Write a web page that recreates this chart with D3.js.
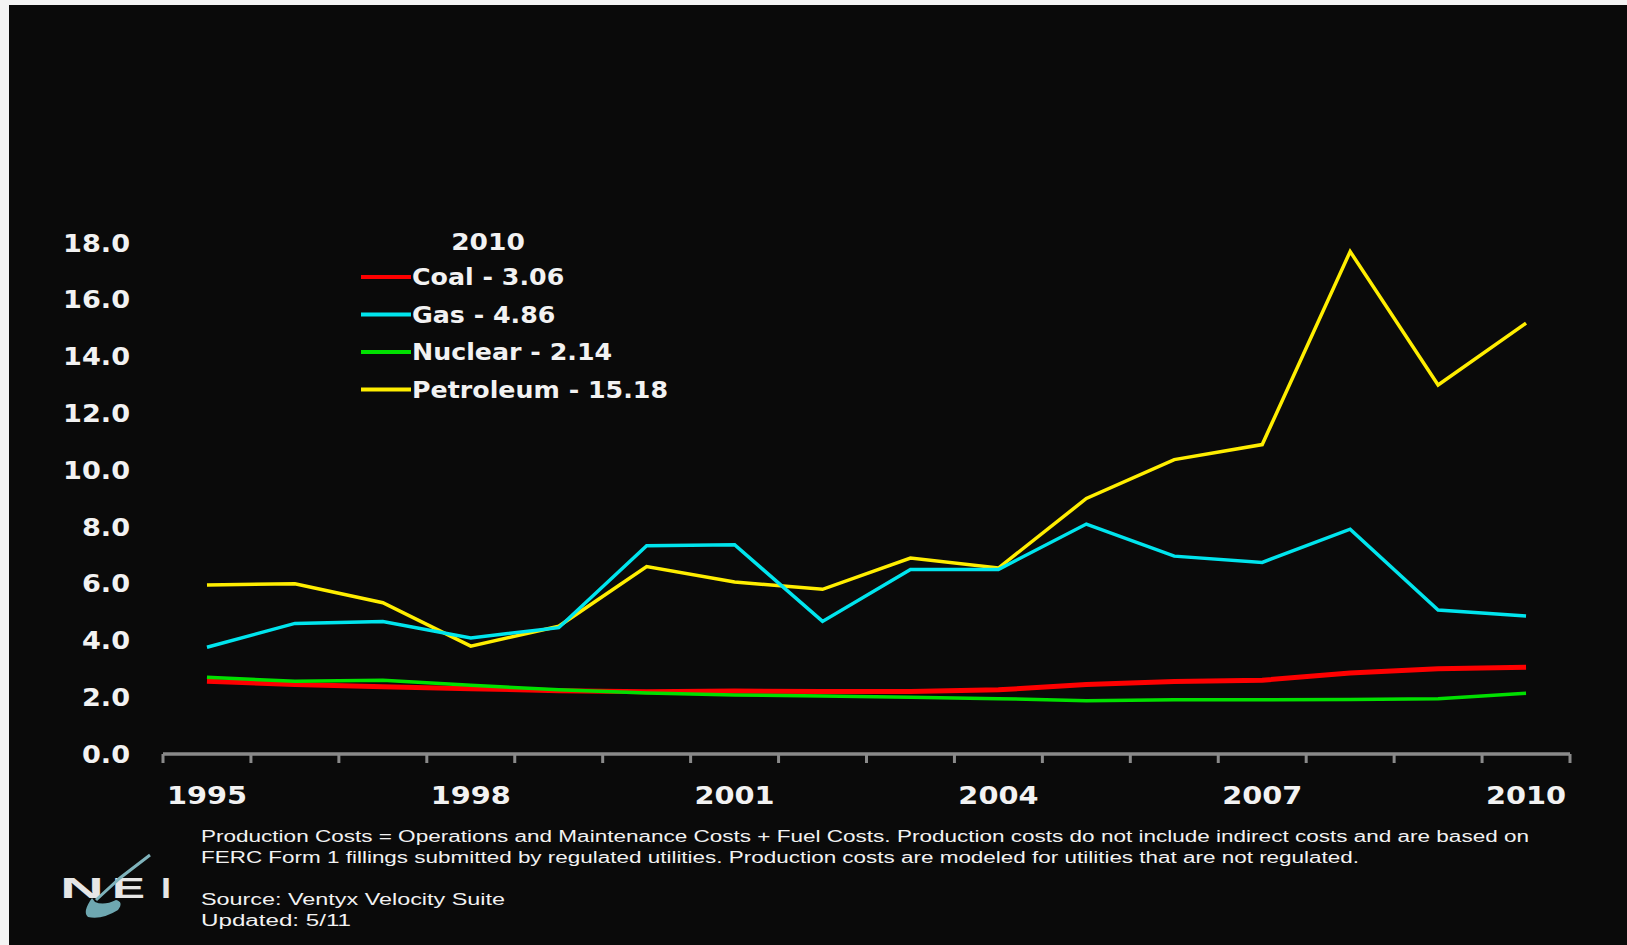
<!DOCTYPE html>
<html>
<head>
<meta charset="utf-8">
<script src="https://cdn.jsdelivr.net/npm/d3@7"></script>
<style>
  body { margin: 0; background: #f4f4f4; overflow: hidden; }
  text { font-family: "DejaVu Sans", Verdana, sans-serif; }
  .foot { font-family: "Liberation Sans", Arial, sans-serif; }
</style>
</head>
<body>
<svg id="chart" width="1627" height="945"></svg>
<script>
// data
const years = ["1995","1996","1997","1998","1999","2000","2001","2002","2003","2004","2005","2006","2007","2008","2009","2010"];
const coal      = [2.56, 2.45, 2.37, 2.30, 2.23, 2.19, 2.22, 2.20, 2.20, 2.26, 2.45, 2.55, 2.60, 2.85, 3.00, 3.06];
const gas       = [3.76, 4.60, 4.67, 4.09, 4.45, 7.34, 7.37, 4.67, 6.50, 6.50, 8.10, 6.97, 6.75, 7.92, 5.07, 4.86];
const nuclear   = [2.70, 2.56, 2.60, 2.42, 2.26, 2.15, 2.08, 2.04, 2.00, 1.95, 1.88, 1.91, 1.91, 1.92, 1.95, 2.14];
const petroleum = [5.95, 6.00, 5.33, 3.80, 4.50, 6.60, 6.06, 5.80, 6.90, 6.55, 9.00, 10.37, 10.90, 17.70, 13.00, 15.18];
const yTicks = [0, 2, 4, 6, 8, 10, 12, 14, 16, 18];
const xLabels = ["1995", "1998", "2001", "2004", "2007", "2010"];

const seriesNames = ["Coal", "Gas", "Nuclear", "Petroleum"];
const seriesValues = [coal, gas, nuclear, petroleum];
const seriesColors = ["#ff0000", "#00e5ee", "#00e000", "#ffee00"];
const seriesWidths = [5, 3.5, 3.5, 3.5];
const legendValues = ["3.06", "4.86", "2.14", "15.18"];

const notes = [
  "Production Costs = Operations and Maintenance Costs + Fuel Costs. Production costs do not include indirect costs and are based on",
  "FERC Form 1 fillings submitted by regulated utilities. Production costs are modeled for utilities that are not regulated."
];
const source = ["Source: Ventyx Velocity Suite", "Updated: 5/11"];

const margin = {top: 243, left: 163},
  width = 1570 - margin.left,
  height = 754 - margin.top;

const svg = d3.select("#chart");

// the slide text is stretched sideways, so widen the glyphs a bit
function stretch(sel, f){
  sel.each(function(){
    const w = this.getComputedTextLength();
    d3.select(this)
      .attr("textLength", w * f)
      .attr("lengthAdjust", "spacingAndGlyphs");
  });
}

// dark slide background
svg.append("rect")
  .attr("x", 9).attr("y", 5)
  .attr("width", 1627).attr("height", 945)
  .attr("fill", "#0a0a0a");

const g = svg.append("g")
  .attr("transform", `translate(${margin.left}, ${margin.top})`);

const x = d3.scaleBand()
  .domain(years)
  .range([0, width]);

const y = d3.scaleLinear()
  .domain([0, 18])
  .range([height, 0]);

// y labels (no axis line)
g.selectAll(".ylab")
  .data(yTicks)
  .enter()
  .append("text")
    .attr("class", "ylab")
    .attr("x", -33)
    .attr("y", d => y(d))
    .attr("dy", "0.36em")
    .attr("text-anchor", "end")
    .attr("fill", "#f2f2f2")
    .style("font-size", "24px")
    .style("font-weight", "bold")
    .text(d => d.toFixed(1))
    .call(stretch, 1.13);

// x axis line with ticks between categories
g.append("line")
  .attr("x1", 0).attr("x2", width)
  .attr("y1", height).attr("y2", height)
  .attr("stroke", "#8a8a8a")
  .attr("stroke-width", 3.5);

const tickPos = years.map(d => x(d)).concat([width]);
g.selectAll(".xtick")
  .data(tickPos)
  .enter()
  .append("line")
    .attr("x1", d => d).attr("x2", d => d)
    .attr("y1", height).attr("y2", height + 9)
    .attr("stroke", "#8a8a8a")
    .attr("stroke-width", 3);

g.selectAll(".xlab")
  .data(xLabels)
  .enter()
  .append("text")
    .attr("x", d => x(d) + x.bandwidth() / 2)
    .attr("y", height + 50)
    .attr("text-anchor", "middle")
    .attr("fill", "#f2f2f2")
    .style("font-size", "25px")
    .style("font-weight", "bold")
    .text(d => d)
    .call(stretch, 1.15);

// lines
const line = d3.line()
  .x((d, i) => x(years[i]) + x.bandwidth() / 2)
  .y(d => y(d));

// draw order: petroleum, gas, coal, nuclear
[3, 1, 0, 2].forEach(function(k){
  g.append("path")
    .datum(seriesValues[k])
    .attr("d", line)
    .attr("fill", "none")
    .attr("stroke", seriesColors[k])
    .attr("stroke-width", seriesWidths[k])
    .attr("stroke-linejoin", "miter");
});

// legend
const legend = svg.append("g")
  .attr("transform", "translate(361, 242)");

legend.append("text")
  .attr("x", 127)
  .attr("y", 0)
  .attr("dy", "0.36em")
  .attr("text-anchor", "middle")
  .attr("fill", "#f2f2f2")
  .style("font-size", "23px")
  .style("font-weight", "bold")
  .text("2010")
  .call(stretch, 1.15);

seriesNames.forEach(function(name, i){
  const ly = 35 + i * 37.5;
  legend.append("line")
    .attr("x1", 0).attr("x2", 50)
    .attr("y1", ly).attr("y2", ly)
    .attr("stroke", seriesColors[i])
    .attr("stroke-width", 4);
  legend.append("text")
    .attr("x", 51)
    .attr("y", ly)
    .attr("dy", "0.36em")
    .attr("fill", "#f2f2f2")
    .style("font-size", "23px")
    .style("font-weight", "bold")
    .text(name + " - " + legendValues[i])
    .call(stretch, 1.1);
});

// footnotes
const foot = svg.append("g");
foot.selectAll(".note")
  .data(notes)
  .enter()
  .append("text")
    .attr("class", "foot")
    .attr("x", 201)
    .attr("y", (d, i) => 842 + i * 21)
    .attr("fill", "#f2f2f2")
    .attr("textLength", (d, i) => i === 0 ? 1328 : 1158)
    .attr("lengthAdjust", "spacingAndGlyphs")
    .style("font-size", "16px")
    .text(d => d);

foot.selectAll(".src")
  .data(source)
  .enter()
  .append("text")
    .attr("class", "foot")
    .attr("x", 201)
    .attr("y", (d, i) => 905 + i * 21)
    .attr("fill", "#f2f2f2")
    .attr("textLength", (d, i) => i === 0 ? 304 : 150)
    .attr("lengthAdjust", "spacingAndGlyphs")
    .style("font-size", "16px")
    .text(d => d);

// NEI logo
const logo = svg.append("g");
const logoLetters = [["N", 60, 44], ["E", 112, 33], ["I", 161, 10]];
logoLetters.forEach(function(l){
  logo.append("text")
    .attr("class", "foot")
    .attr("x", l[1])
    .attr("y", 898)
    .attr("fill", "#e6e6e6")
    .attr("textLength", l[2])
    .attr("lengthAdjust", "spacingAndGlyphs")
    .style("font-size", "29px")
    .style("font-weight", "bold")
    .text(l[0]);
});
logo.append("path")
  .attr("d", "M150,855 L120,878 L96,900")
  .attr("fill", "none")
  .attr("stroke", "#7fb3bb")
  .attr("stroke-width", 3);
logo.append("path")
  .attr("d", "M92,898 Q82,912 88,917 Q102,920 118,910 Q124,902 116,900 Q104,906 95,902 Z")
  .attr("fill", "#6ea7b0");
</script>
</body>
</html>
